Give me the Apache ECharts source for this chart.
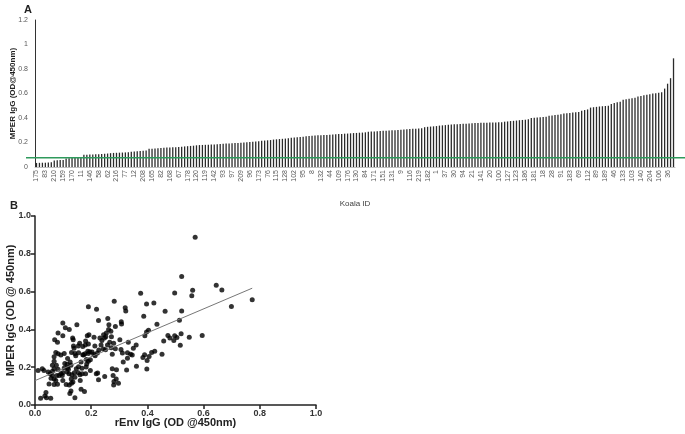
<!DOCTYPE html>
<html>
<head>
<meta charset="utf-8">
<script src="https://cdn.jsdelivr.net/npm/echarts@6/dist/echarts.min.js"></script>
<style>html,body{margin:0;padding:0;background:#fff;}#c{width:685px;height:434px;}</style>
</head>
<body>
<div id="c"></div>
<script>
// Panel A: koala IDs shown on the axis (every third bar is labelled)
const shownIds = ['175','83','210','159','170','11','146','58','62','216','77','12','208','165','82','168','67','178','120','119','142','93','97','209','96','173','76','115','128','102','95','8','132','44','109','176','130','84','171','151','131','9','116','219','182','1','37','30','94','21','141','20','100','127','123','186','181','18','28','91','183','69','112','89','189','46','133','103','140','204','106','36'];
// Panel A: MPER IgG OD for each koala (sorted, 216 bars)
const mperSorted = [
0.033,0.034,0.035,0.035,0.036,0.038,
0.054,0.055,0.057,0.058,
0.070,0.072,0.073,0.075,0.076,0.077,
0.100,0.101,0.102,0.103,0.104,0.105,0.106,0.108,0.110,
0.113,0.115,0.116,0.117,0.118,0.119,0.120,
0.124,0.126,0.128,0.130,0.132,0.135,
0.148,0.150,0.152,0.154,0.156,
0.158,0.159,0.160,0.161,0.162,0.163,0.165,
0.168,0.170,0.172,0.174,0.177,
0.179,0.180,0.181,0.182,0.183,0.184,0.185,0.187,
0.190,0.191,0.192,0.194,0.195,0.196,0.198,
0.200,0.202,0.204,0.206,0.208,0.210,
0.214,0.216,0.218,0.220,
0.224,0.226,0.228,0.230,0.232,0.235,
0.238,0.240,0.243,0.245,0.247,
0.252,0.254,0.256,0.258,0.259,0.260,0.261,0.262,0.263,0.265,
0.267,0.269,0.270,0.272,0.273,0.275,
0.277,0.278,0.280,0.281,0.283,
0.287,0.289,0.290,0.292,0.293,0.295,0.296,
0.298,0.300,0.301,0.302,0.304,
0.307,0.309,0.310,0.312,0.313,0.315,0.316,
0.325,0.328,0.330,0.332,0.334,
0.338,0.340,0.342,0.344,0.346,
0.349,0.350,0.352,0.353,0.354,0.356,0.357,
0.359,0.360,0.361,0.362,0.362,0.363,0.364,0.364,0.365,0.366,
0.370,0.372,0.375,0.377,0.379,0.382,
0.384,0.386,0.390,
0.400,0.403,0.405,0.407,0.409,0.411,
0.418,0.421,0.424,0.427,0.430,
0.436,0.439,0.441,0.444,0.446,0.449,
0.460,0.465,0.470,
0.485,0.488,0.491,0.494,0.496,0.498,0.501,
0.515,0.522,0.528,0.533,
0.548,0.553,0.557,0.561,0.566,
0.575,0.580,0.585,0.589,0.593,
0.600,0.603,0.607,0.610,
0.640,0.680,0.725,0.887
];
const cutoff = 0.075;

// Panel B: [rEnv IgG OD, MPER IgG OD]
const pointsB = [[0.57,0.887],[0.522,0.68],[0.645,0.634],[0.665,0.609],[0.561,0.607],[0.558,0.578],[0.497,0.592],[0.376,0.591],[0.773,0.557],[0.699,0.521],[0.397,0.535],[0.423,0.54],[0.321,0.515],[0.323,0.497],[0.522,0.497],[0.219,0.506],[0.19,0.52],[0.282,0.549],[0.387,0.469],[0.463,0.496],[0.595,0.368],[0.549,0.359],[0.52,0.377],[0.514,0.449],[0.517,0.316],[0.473,0.368],[0.48,0.354],[0.497,0.366],[0.505,0.357],[0.494,0.341],[0.458,0.338],[0.452,0.269],[0.426,0.285],[0.434,0.427],[0.406,0.257],[0.398,0.19],[0.399,0.235],[0.39,0.266],[0.384,0.251],[0.391,0.366],[0.397,0.386],[0.404,0.395],[0.36,0.318],[0.361,0.205],[0.329,0.276],[0.34,0.269],[0.332,0.332],[0.326,0.185],[0.314,0.228],[0.311,0.275],[0.306,0.294],[0.302,0.345],[0.307,0.44],[0.308,0.429],[0.29,0.187],[0.297,0.115],[0.289,0.138],[0.275,0.192],[0.281,0.124],[0.278,0.156],[0.28,0.106],[0.275,0.269],[0.271,0.303],[0.286,0.416],[0.266,0.332],[0.262,0.399],[0.263,0.425],[0.259,0.458],[0.27,0.39],[0.272,0.361],[0.254,0.381],[0.252,0.361],[0.258,0.318],[0.244,0.372],[0.247,0.354],[0.231,0.354],[0.238,0.341],[0.226,0.447],[0.227,0.291],[0.222,0.275],[0.214,0.26],[0.218,0.165],[0.223,0.169],[0.226,0.133],[0.248,0.151],[0.21,0.359],[0.213,0.312],[0.209,0.269],[0.192,0.372],[0.186,0.366],[0.18,0.339],[0.19,0.323],[0.178,0.271],[0.19,0.273],[0.195,0.282],[0.183,0.241],[0.19,0.232],[0.197,0.239],[0.184,0.217],[0.182,0.201],[0.197,0.183],[0.18,0.165],[0.168,0.165],[0.176,0.072],[0.164,0.083],[0.167,0.194],[0.164,0.228],[0.155,0.276],[0.154,0.312],[0.159,0.327],[0.149,0.425],[0.134,0.354],[0.137,0.312],[0.139,0.3],[0.13,0.278],[0.142,0.273],[0.136,0.345],[0.122,0.399],[0.099,0.434],[0.108,0.409],[0.099,0.366],[0.082,0.381],[0.07,0.345],[0.08,0.332],[0.074,0.278],[0.082,0.271],[0.068,0.255],[0.104,0.273],[0.116,0.246],[0.125,0.228],[0.068,0.232],[0.106,0.219],[0.114,0.215],[0.116,0.197],[0.104,0.196],[0.119,0.189],[0.092,0.165],[0.097,0.156],[0.082,0.189],[0.099,0.129],[0.078,0.156],[0.062,0.178],[0.054,0.165],[0.057,0.142],[0.068,0.138],[0.074,0.129],[0.026,0.192],[0.011,0.183],[0.047,0.174],[0.062,0.156],[0.05,0.111],[0.068,0.108],[0.08,0.11],[0.086,0.156],[0.121,0.165],[0.131,0.16],[0.14,0.171],[0.142,0.147],[0.129,0.138],[0.122,0.106],[0.13,0.115],[0.135,0.122],[0.111,0.108],[0.128,0.074],[0.124,0.061],[0.142,0.038],[0.02,0.036],[0.035,0.048],[0.039,0.066],[0.056,0.036],[0.041,0.038],[0.161,0.129],[0.154,0.171],[0.092,0.264],[0.17,0.266],[0.145,0.26],[0.16,0.16],[0.032,0.183],[0.068,0.192],[0.062,0.21],[0.076,0.21],[0.17,0.309],[0.179,0.318],[0.188,0.284],[0.173,0.264],[0.114,0.174],[0.099,0.171],[0.155,0.203],[0.147,0.192],[0.128,0.21],[0.203,0.28],[0.235,0.318],[0.243,0.296],[0.251,0.292],[0.28,0.327],[0.286,0.298],[0.329,0.248],[0.346,0.264],[0.35,0.3],[0.415,0.278]];
// Panel B: regression line end points
const fitLine = [[0, 0.129], [0.773, 0.618]];

const categories = mperSorted.map((v, i) => (i % 3 === 0 ? shownIds[i / 3] : ''));

const chart = echarts.init(document.getElementById('c'), null, {renderer: 'canvas'});
const fontA = 'Liberation Sans, Arial, sans-serif';
const fontB = 'Liberation Sans, Arial, sans-serif';

chart.setOption({
  animation: false,
  backgroundColor: '#ffffff',
  title: [
    {text: 'A', left: 19, top: -1, textStyle: {fontSize: 11, fontWeight: 'bold', color: '#222', fontFamily: fontA}},
    {text: 'B', left: 5, top: 195, textStyle: {fontSize: 11, fontWeight: 'bold', color: '#222', fontFamily: fontB}}
  ],
  grid: [
    {left: 35, top: 20, width: 640, height: 147, outerBoundsMode: 'none', containLabel: false},
    {left: 35, top: 216, width: 281, height: 189, outerBoundsMode: 'none', containLabel: false}
  ],
  xAxis: [
    {
      type: 'category', gridIndex: 0, data: categories,
      axisLine: {show: true, lineStyle: {color: '#bfbfbf', width: 1}},
      axisTick: {show: false},
      axisLabel: {interval: 2, rotate: 90, fontSize: 7, color: '#595959', margin: 3, fontFamily: fontA},
      name: 'Koala ID', nameLocation: 'middle', nameGap: 33, nameMoveOverlap: false,
      nameTextStyle: {fontSize: 8, color: '#404040', fontFamily: fontA},
      splitLine: {show: false}
    },
    {
      type: 'value', gridIndex: 1, min: 0, max: 1, interval: 0.2,
      axisLine: {show: true, lineStyle: {color: '#222', width: 1.5}},
      axisTick: {show: true, length: 4, lineStyle: {color: '#222', width: 1.5}},
      axisLabel: {fontSize: 9, fontWeight: 'bold', color: '#333', margin: 4, fontFamily: fontB, formatter: v => v.toFixed(1)},
      splitLine: {show: false},
      name: 'rEnv IgG (OD @450nm)', nameLocation: 'middle', nameGap: 12, nameMoveOverlap: false,
      nameTextStyle: {fontSize: 11, fontWeight: 'bold', color: '#222', fontFamily: fontB}
    }
  ],
  yAxis: [
    {
      type: 'value', gridIndex: 0, min: 0, max: 1.2, interval: 0.2,
      axisLine: {show: true, lineStyle: {color: '#333', width: 1}},
      axisTick: {show: false},
      axisLabel: {fontSize: 7, color: '#595959', margin: 7, fontFamily: fontA,
        formatter: v => String(parseFloat(v.toFixed(1)))},
      splitLine: {show: false},
      name: 'MPER IgG (OD@450nm)', nameLocation: 'middle', nameGap: 18, nameRotate: 90, nameMoveOverlap: false,
      nameTextStyle: {fontSize: 8, fontWeight: 'bold', color: '#222', fontFamily: fontA}
    },
    {
      type: 'value', gridIndex: 1, min: 0, max: 1, interval: 0.2,
      axisLine: {show: true, lineStyle: {color: '#222', width: 1.5}},
      axisTick: {show: true, length: 4, lineStyle: {color: '#222', width: 1.5}},
      axisLabel: {fontSize: 9, fontWeight: 'bold', color: '#333', margin: 4, fontFamily: fontB, formatter: v => v.toFixed(1)},
      splitLine: {show: false},
      name: 'MPER IgG (OD @ 450nm)', nameLocation: 'middle', nameGap: 19, nameRotate: 90, nameMoveOverlap: false,
      nameTextStyle: {fontSize: 11, fontWeight: 'bold', color: '#222', fontFamily: fontB}
    }
  ],
  series: [
    {
      type: 'bar', xAxisIndex: 0, yAxisIndex: 0, data: mperSorted,
      barWidth: 1.3, itemStyle: {color: '#2a2a2a'}, silent: true
    },
    {
      type: 'scatter', xAxisIndex: 1, yAxisIndex: 1, data: pointsB,
      symbol: 'circle', symbolSize: 5, itemStyle: {color: '#000'}, silent: true
    },
    {
      type: 'line', xAxisIndex: 1, yAxisIndex: 1, data: fitLine,
      symbol: 'none', lineStyle: {color: '#777', width: 1}, silent: true
    }
  ]
});

const yCut = chart.convertToPixel({xAxisIndex: 0, yAxisIndex: 0}, [0, cutoff])[1];
chart.setOption({
  graphic: [{
    type: 'line', silent: true, z: 100,
    shape: {x1: 26, y1: yCut, x2: 685, y2: yCut},
    style: {stroke: '#2f9a5c', lineWidth: 1.5}
  }]
});
</script>
</body>
</html>
